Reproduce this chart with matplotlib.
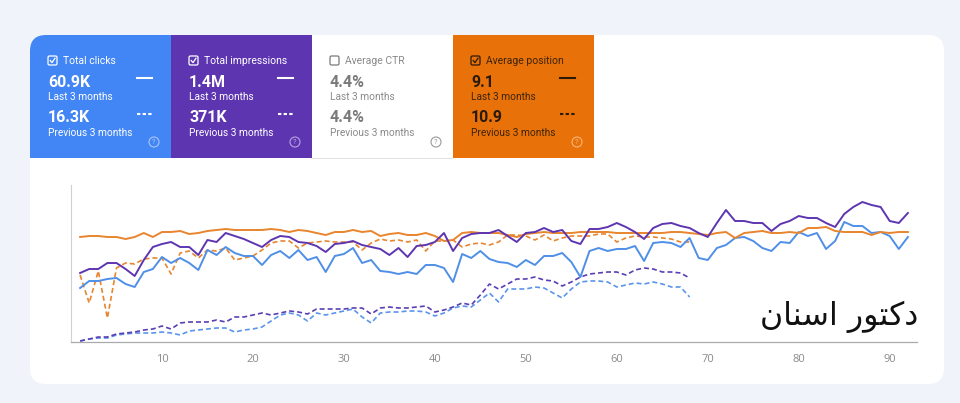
import matplotlib
matplotlib.use("Agg")
import matplotlib.pyplot as plt
from matplotlib.patches import FancyBboxPatch, Rectangle, Circle

# day index of the two periods
days_last = list(range(1, 93))
days_prev = list(range(1, 69))

# normalised heights of each series (no y scale shown)
clicks_last = [54, 61, 61, 63, 64, 58, 55, 70, 73, 85, 79, 84, 79, 72, 92, 87, 95, 89, 86, 86, 77,
               87, 91, 84, 92, 82, 85, 70, 86, 88, 94, 79, 82, 71, 70, 68, 70, 68, 77, 77, 74, 60, 88, 84, 91, 83,
               80, 79, 75, 82, 77, 86, 86, 89, 80, 65, 91, 94, 91, 93, 93, 96, 81, 99, 100, 99, 95, 104, 84,
               82, 94, 97, 104, 105, 101, 94, 91, 100, 99, 110, 106, 109, 93, 101, 120, 116, 116, 109, 110, 106, 93, 105]
impr_last = [69, 73, 73, 79, 79, 73, 66, 82, 95, 98, 100, 95, 95, 87, 102, 100, 109, 106, 103, 99, 95,
             102, 106, 105, 100, 99, 96, 90, 98, 99, 101, 97, 95, 93, 87, 94, 85, 96, 97, 100, 109, 91, 104, 108, 109, 109,
             112, 106, 100, 109, 110, 114, 110, 112, 101, 98, 113, 113, 115, 119, 115, 110, 103, 114, 118, 119, 116, 114, 109,
             105, 119, 132, 121, 121, 119, 119, 111, 118, 121, 126, 124, 124, 119, 115, 128, 135, 140, 137, 135, 121, 119, 129]
pos_last = [105, 106, 106, 105, 105, 103, 105, 109, 105, 110, 110, 111, 108, 109, 111, 112, 113, 112, 112, 112, 112,
            113, 112, 110, 112, 111, 109, 107, 110, 110, 112, 110, 111, 106, 108, 109, 107, 107, 109, 106, 101, 102, 109, 110, 109, 109,
            109, 107, 105, 108, 109, 110, 109, 109, 109, 110, 110, 110, 110, 109, 109, 109, 109, 109, 109, 110, 110, 109, 108,
            107, 109, 110, 104, 109, 110, 111, 109, 109, 110, 109, 114, 114, 115, 111, 110, 110, 110, 107, 110, 109, 110, 110]
clicks_prev = [1, 3, 4, 4, 7, 8, 9, 9, 9, 10, 9, 7, 11, 12, 13, 14, 14, 10, 12, 13, 15,
               21, 27, 29, 27, 21, 29, 27, 29, 31, 33, 25, 19, 29, 30, 30, 31, 31, 30, 26, 29, 34, 36, 35, 42, 49,
               40, 53, 53, 53, 55, 54, 49, 44, 53, 60, 61, 61, 60, 55, 57, 59, 58, 60, 58, 55, 55, 45]
impr_prev = [1, 3, 5, 5, 8, 9, 10, 12, 13, 16, 13, 19, 20, 20, 20, 22, 20, 25, 25, 27, 29,
             27, 29, 31, 30, 28, 33, 33, 33, 33, 34, 34, 28, 34, 35, 34, 34, 35, 36, 30, 32, 35, 39, 37, 47, 58,
             53, 58, 63, 63, 65, 62, 61, 56, 60, 65, 68, 69, 70, 70, 67, 72, 74, 73, 70, 70, 69, 64]
pos_prev = [67, 39, 71, 24, 74, 79, 78, 83, 84, 84, 68, 89, 91, 84, 92, 91, 94, 82, 84, 86, 92,
            99, 101, 101, 94, 99, 100, 101, 100, 100, 100, 92, 99, 103, 101, 102, 100, 102, 91, 101, 101, 102, 95, 98, 99, 97,
            100, 107, 107, 106, 102, 107, 101, 104, 106, 106, 106, 108, 108, 100, 104, 106, 105, 105, 104, 103, 100, 100]

card_titles = ["Total clicks", "Total impressions", "Average CTR", "Average position"]
card_last = ["60.9K", "1.4M", "4.4%", "9.1"]
card_prev = ["16.3K", "371K", "4.4%", "10.9"]
card_checked = [True, True, False, True]

BLUE = "#4285f4"
PURPLE = "#5e35b1"
ORANGE = "#e8710a"

fig = plt.figure(figsize=(9.6, 4.03), dpi=100)
fig.patch.set_facecolor("#f1f3fb")

# pixel-space layer for the cards
bg = fig.add_axes([0, 0, 1, 1])
bg.set_xlim(0, 960)
bg.set_ylim(403, 0)
bg.axis("off")

panel = FancyBboxPatch((30, 35), 914, 349, boxstyle="round,pad=0,rounding_size=16",
                       fc="white", ec="none")
bg.add_patch(panel)

card_bg = [BLUE, PURPLE, "white", ORANGE]
card_fg = ["white", "white", "#7a7a7a", "#2a1a0a"]
card_sub = ["white", "white", "#8a8a8a", "#3d2408"]
card_q = ["#a9c6fa", "#b8a3e0", "#9a9a9a", "#f6b77a"]

for i in range(4):
    x0 = 30 + 141 * i
    r = Rectangle((x0, 35), 141, 123, fc=card_bg[i], ec="none")
    bg.add_patch(r)
    r.set_clip_path(panel)
    tx = 48 + 141 * i
    fg = card_fg[i]
    # checkbox
    bg.add_patch(FancyBboxPatch((tx, 56), 9, 9, boxstyle="round,pad=0,rounding_size=1.5",
                                fc="none", ec=fg, lw=0.9))
    if card_checked[i]:
        bg.plot([tx + 2.2, tx + 4, tx + 7], [60.5, 62.6, 58.2], color=fg, lw=0.9)
    bg.text(tx + 15, 60.5, card_titles[i], color=card_sub[i], fontsize=7.5,
            family="Roboto", va="center")
    bg.text(tx, 82.5, card_last[i], color=fg, fontsize=11.5, fontweight="bold",
            family="Roboto", va="center")
    bg.text(tx, 97.5, "Last 3 months", color=card_sub[i], fontsize=7.3,
            family="Roboto", va="center")
    bg.text(tx, 118, card_prev[i], color=fg, fontsize=11.5, fontweight="bold",
            family="Roboto", va="center")
    bg.text(tx, 133.5, "Previous 3 months", color=card_sub[i], fontsize=7.3,
            family="Roboto", va="center")
    if card_checked[i]:
        bg.plot([tx + 89, tx + 104], [78, 78], color=fg, lw=1.5)
        bg.plot([tx + 89, tx + 104], [114, 114], color=fg, lw=1.5, ls=(0, (1.6, 1.1)))
    bg.add_patch(Circle((tx + 106, 142), 5, fc="none", ec=card_q[i], lw=0.8))
    bg.text(tx + 106, 142.3, "?", color=card_q[i], fontsize=5.5, ha="center", va="center",
            family="Roboto")

bg.plot([311, 452], [158, 158], color="#e3e3e3", lw=0.8)

# chart
ax = fig.add_axes([71 / 960, 1 - 342 / 403, (917 - 71) / 960, (342 - 185) / 403])
ax.set_facecolor("none")
ax.plot(days_prev, clicks_prev, color="#5b95ea", lw=1.2, ls=(0, (3, 1.8)))
ax.plot(days_prev, impr_prev, color="#5a3fb3", lw=1.2, ls=(0, (3, 1.8)))
ax.plot(days_prev, pos_prev, color="#e8852e", lw=1.2, ls=(0, (3, 1.8)))
ax.plot(days_last, clicks_last, color="#4f8fe8", lw=1.4)
ax.plot(days_last, pos_last, color="#e8852e", lw=1.4)
ax.plot(days_last, impr_last, color="#5e35b1", lw=1.4)

ax.set_xlim(0, 93)
ax.set_ylim(0, 157)
ax.set_yticks([])
ax.set_xticks(range(10, 91, 10))
ax.tick_params(axis="x", length=0, pad=9, labelsize=8, labelcolor="#8a8a8a")
for lab in ax.get_xticklabels():
    lab.set_family("Open Sans")
for s in ["top", "right"]:
    ax.spines[s].set_visible(False)
ax.spines["left"].set_color("#d0d0d0")
ax.spines["left"].set_linewidth(0.8)
ax.spines["bottom"].set_color("#aaaaaa")
ax.spines["bottom"].set_linewidth(0.9)

# "دکتور اسنان" written with presentation forms in visual order (matplotlib has no shaping)
label = "\ufee5\ufe8e\ufee8\ufeb3\ufe8d \ufead\ufeee\ufe98\ufb90\ufea9"
bg.text(918, 325, label, fontsize=22.8, family="DejaVu Sans", color="#111111",
        ha="right", va="baseline")

fig.savefig("out.png", dpi=100, facecolor=fig.get_facecolor())
